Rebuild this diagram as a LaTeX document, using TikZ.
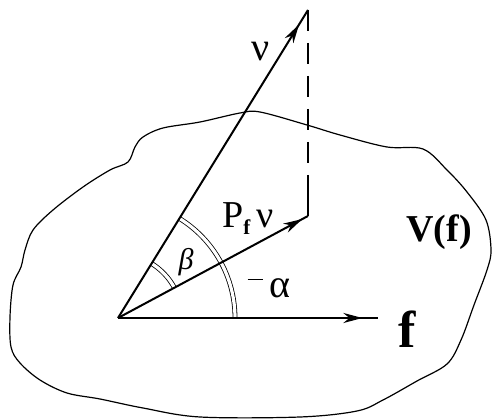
\documentclass[tikz,border=0pt]{standalone}
\usepackage{fontspec}
\setmainfont{Liberation Serif}
\usetikzlibrary{arrows.meta,decorations.markings}
\begin{document}
\begin{tikzpicture}[x=1pt,y=-1pt,
  vec/.style={line width=2pt},
  blob/.style={line width=1.2pt},
  dbl/.style={line width=0.8pt,double=white,double distance=3.2pt},
  lbl/.style={inner sep=0pt,outer sep=0pt},
  tipat/.style={postaction={decorate,decoration={markings,
      mark=at position #1 with {\arrow{Stealth[length=19pt,width=10pt,inset=6pt]}}}}}
]
\useasboundingbox (0,0) rectangle (493,419);
% region boundary
\draw[blob] plot[smooth cycle,tension=0.55] coordinates {
 (240,113) (200,122) (163,128) (143,137) (135,147) (128,162) (110,170)
 (83,187) (53,210) (33,230) (25,250) (21,267) (13,285) (10,317) (11,347)
 (20,363) (40,380) (67,393) (100,399) (143,408) (200,417) (300,417)
 (357,411) (383,400) (417,381) (447,364) (461,340) (474,305) (487,270)
 (491,250) (486,220) (467,192) (447,170) (423,149) (387,147) (340,135)
 (307,125) (260,112)};
\coordinate (O) at (118,318);
\coordinate (V) at (308,10);
\coordinate (Q) at (308,216);
\coordinate (D) at (308,191);
\coordinate (F) at (378,318);
% angle arcs
\draw[dbl] (O) ++(0:117) arc[start angle=0,end angle=-58.4,radius=117];
\draw[dbl] (O) ++(-28.2:64) arc[start angle=-28.2,end angle=-58.4,radius=64];
% vectors
\draw[vec,tipat=0.953] (O) -- (V);
\draw[vec,tipat=0.97] (O) -- (Q);
\draw[vec,tipat=0.94] (O) -- (F);
\draw[line width=1.5pt,dash pattern=on 21pt off 12pt] (V) -- (D);
\draw[line width=1.5pt] (D) -- (Q);
% labels
\node[lbl] (nu) at (261,52) {\fontsize{40}{40}\selectfont ν};
\node[lbl] (pf) at (248,219) {\fontsize{38}{38}\selectfont P{\fontsize{21}{21}\bfseries\raisebox{-7pt}{f}}\,ν};
\node[lbl] (be) at (186,262) {\fontsize{30}{30}\selectfont\itshape β};
\node[lbl] (al) at (269,288) {\fontsize{40}{40}\selectfont\rule[17pt]{15pt}{1.4pt}\,α};
\node[lbl] (vf) at (439,232) {\fontsize{38}{38}\selectfont\bfseries V(f)};
\node[lbl] (fl) at (407,329) {\fontsize{52}{52}\selectfont\bfseries f};
\end{tikzpicture}
\end{document}
